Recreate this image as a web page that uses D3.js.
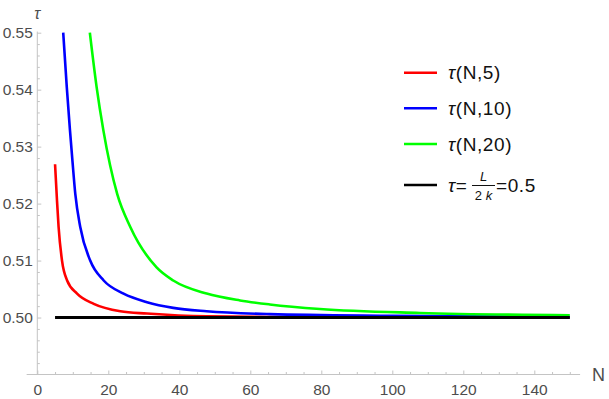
<!DOCTYPE html>
<html lang="en">
<head>
    <meta charset="UTF-8">
    <script src="https://d3js.org/d3.v7.min.js"></script>
    <title>tau</title>
    <style>
        body { margin: 0; background: #fff; }
        text { font-family: "Liberation Sans", Arial, sans-serif; }
    </style>
</head>
<body>
    <svg width="609" height="399" id="plot"></svg>
    <script>

        // values
        const nRed   = [5.0, 5.55, 6.0, 6.96, 8.4, 11.2, 15.9, 23.4, 30.9, 47.7, 80, 150];
        const tauRed = [0.5269, 0.5205, 0.5159, 0.5100, 0.5065, 0.5042, 0.5024, 0.5011, 0.5007, 0.5002, 0.50005, 0.50001];

        const nBlue   = [7.3, 8.3, 9.2, 9.9, 10.7, 12.1, 14.9, 18.7, 24.3, 30.9, 38.3, 47.7, 65.5, 100, 150];
        const tauBlue = [0.55, 0.5405, 0.5329, 0.5275, 0.5217, 0.5159, 0.5100, 0.5065, 0.5042, 0.5027, 0.5017, 0.5011, 0.5006, 0.5003, 0.5001];

        const nGreen   = [14.8, 16.7, 18.6, 22.5, 26.2, 33.6, 38.3, 47.7, 57.1, 65.5, 79.6, 107.8, 150];
        const tauGreen = [0.55, 0.5405, 0.5329, 0.5217, 0.5159, 0.5088, 0.5065, 0.5042, 0.5030, 0.5023, 0.5015, 0.5008, 0.5004];

        const nBlack   = [5, 150];
        const tauBlack = [0.5, 0.5];

        const xTicks = [0, 20, 40, 60, 80, 100, 120, 140];
        const yTicks = [0.50, 0.51, 0.52, 0.53, 0.54, 0.55];
        const legendNames = ["(N,5)", "(N,10)", "(N,20)"];

        let svg = d3.select("#plot");

        let x = d3.scaleLinear().domain([0, 150]).range([37.3, 569.8]);
        let y = d3.scaleLinear().domain([0.49, 0.55]).range([374.5, 32.7]);

        let axisCol = "#c4c4c4";
        let labelCol = "#4d4d4d";

        // minor ticks
        let xMinor = d3.range(0, 151, 5).filter(d => d % 20 != 0);
        let yMinor = d3.range(0, 31).map(i => +(0.49 + i * 0.002).toFixed(3)).filter(d => Math.round(d * 1000) % 10 != 0);

        let gx = svg.append("g").attr("transform", "translate(0," + y(0.49) + ")");
        gx.call(d3.axisBottom(x).tickValues(xTicks).tickSize(-4).tickPadding(9).tickFormat(d3.format("d")));
        gx.append("g").call(d3.axisBottom(x).tickValues(xMinor).tickSize(-2.5).tickFormat(""));

        let gy = svg.append("g").attr("transform", "translate(" + x(0) + ",0)");
        gy.call(d3.axisLeft(y).tickValues(yTicks).tickSize(-4).tickPadding(4.5).tickFormat(d3.format(".2f")));
        gy.append("g").call(d3.axisLeft(y).tickValues(yMinor).tickSize(-2.5).tickFormat(""));

        svg.selectAll(".domain").remove();
        svg.selectAll(".tick line").attr("stroke", axisCol);
        svg.selectAll(".tick text")
            .attr("fill", labelCol)
            .attr("style", "font-size: 15.5px; font-family: 'Liberation Sans', Arial, sans-serif;");

        // axis lines
        svg.append("line")
            .attr("x1", x(-3)).attr("x2", x(152.9))
            .attr("y1", y(0.49)).attr("y2", y(0.49))
            .attr("style", "stroke: " + axisCol + "; stroke-width: 1");
        svg.append("line")
            .attr("x1", x(0)).attr("x2", x(0))
            .attr("y1", y(0.49)).attr("y2", y(0.5502))
            .attr("style", "stroke: " + axisCol + "; stroke-width: 1");

        // axis labels
        svg.append("text")
            .attr("x", x(0))
            .attr("y", 19)
            .attr("text-anchor", "middle")
            .attr("fill", labelCol)
            .attr("style", "font-size: 16px; font-style: italic;")
            .text("τ");
        svg.append("text")
            .attr("x", 592)
            .attr("y", y(0.49) + 6)
            .attr("fill", labelCol)
            .attr("style", "font-size: 18px;")
            .text("N");

        // curves
        let series = [
            { n: nRed, t: tauRed, col: "#ff0000", w: 2.6 },
            { n: nBlue, t: tauBlue, col: "#0000ff", w: 2.6 },
            { n: nGreen, t: tauGreen, col: "#00ff00", w: 2.6 },
            { n: nBlack, t: tauBlack, col: "#000000", w: 3 }
        ];

        let line = d3.line()
            .x(d => x(d[0]))
            .y(d => y(d[1]))
            .curve(d3.curveMonotoneX);

        series.forEach(s => {
            svg.append("path")
                .datum(s.n.map((v, i) => [v, s.t[i]]))
                .attr("d", line)
                .attr("fill", "none")
                .attr("stroke", s.col)
                .attr("stroke-width", s.w);
        });

        // legend
        let legY = [72.7, 108.3, 144, 185];
        let legFont = "font-size: 19px; letter-spacing: 0.6px;";
        series.forEach((s, i) => {
            svg.append("line")
                .attr("x1", 404).attr("x2", 437)
                .attr("y1", legY[i]).attr("y2", legY[i])
                .attr("stroke", s.col)
                .attr("stroke-width", 2.6);
        });
        legendNames.forEach((nm, i) => {
            let t = svg.append("text")
                .attr("x", 448)
                .attr("y", legY[i] + 6.5)
                .attr("fill", "#111")
                .attr("style", legFont);
            t.append("tspan").attr("font-style", "italic").text("τ");
            t.append("tspan").text(nm);
        });

        // black legend entry with the fraction
        let ly = legY[3];
        let t4 = svg.append("text")
            .attr("x", 448)
            .attr("y", ly + 6.5)
            .attr("fill", "#111")
            .attr("style", legFont);
        t4.append("tspan").attr("font-style", "italic").text("τ");
        t4.append("tspan").text("=");
        svg.append("text")
            .attr("x", 483.5).attr("y", ly - 4)
            .attr("text-anchor", "middle")
            .attr("fill", "#111")
            .attr("style", "font-size: 13px; font-style: italic;")
            .text("L");
        svg.append("line")
            .attr("x1", 472).attr("x2", 495)
            .attr("y1", ly + 0.5).attr("y2", ly + 0.5)
            .attr("stroke", "#111").attr("stroke-width", 1);
        let fr = svg.append("text")
            .attr("x", 483.5).attr("y", ly + 15)
            .attr("text-anchor", "middle")
            .attr("fill", "#111")
            .attr("style", "font-size: 13px;");
        fr.append("tspan").text("2 ");
        fr.append("tspan").attr("font-style", "italic").text("k");
        svg.append("text")
            .attr("x", 496)
            .attr("y", ly + 6.5)
            .attr("fill", "#111")
            .attr("style", legFont)
            .text("=0.5");

    </script>
</body>
</html>
